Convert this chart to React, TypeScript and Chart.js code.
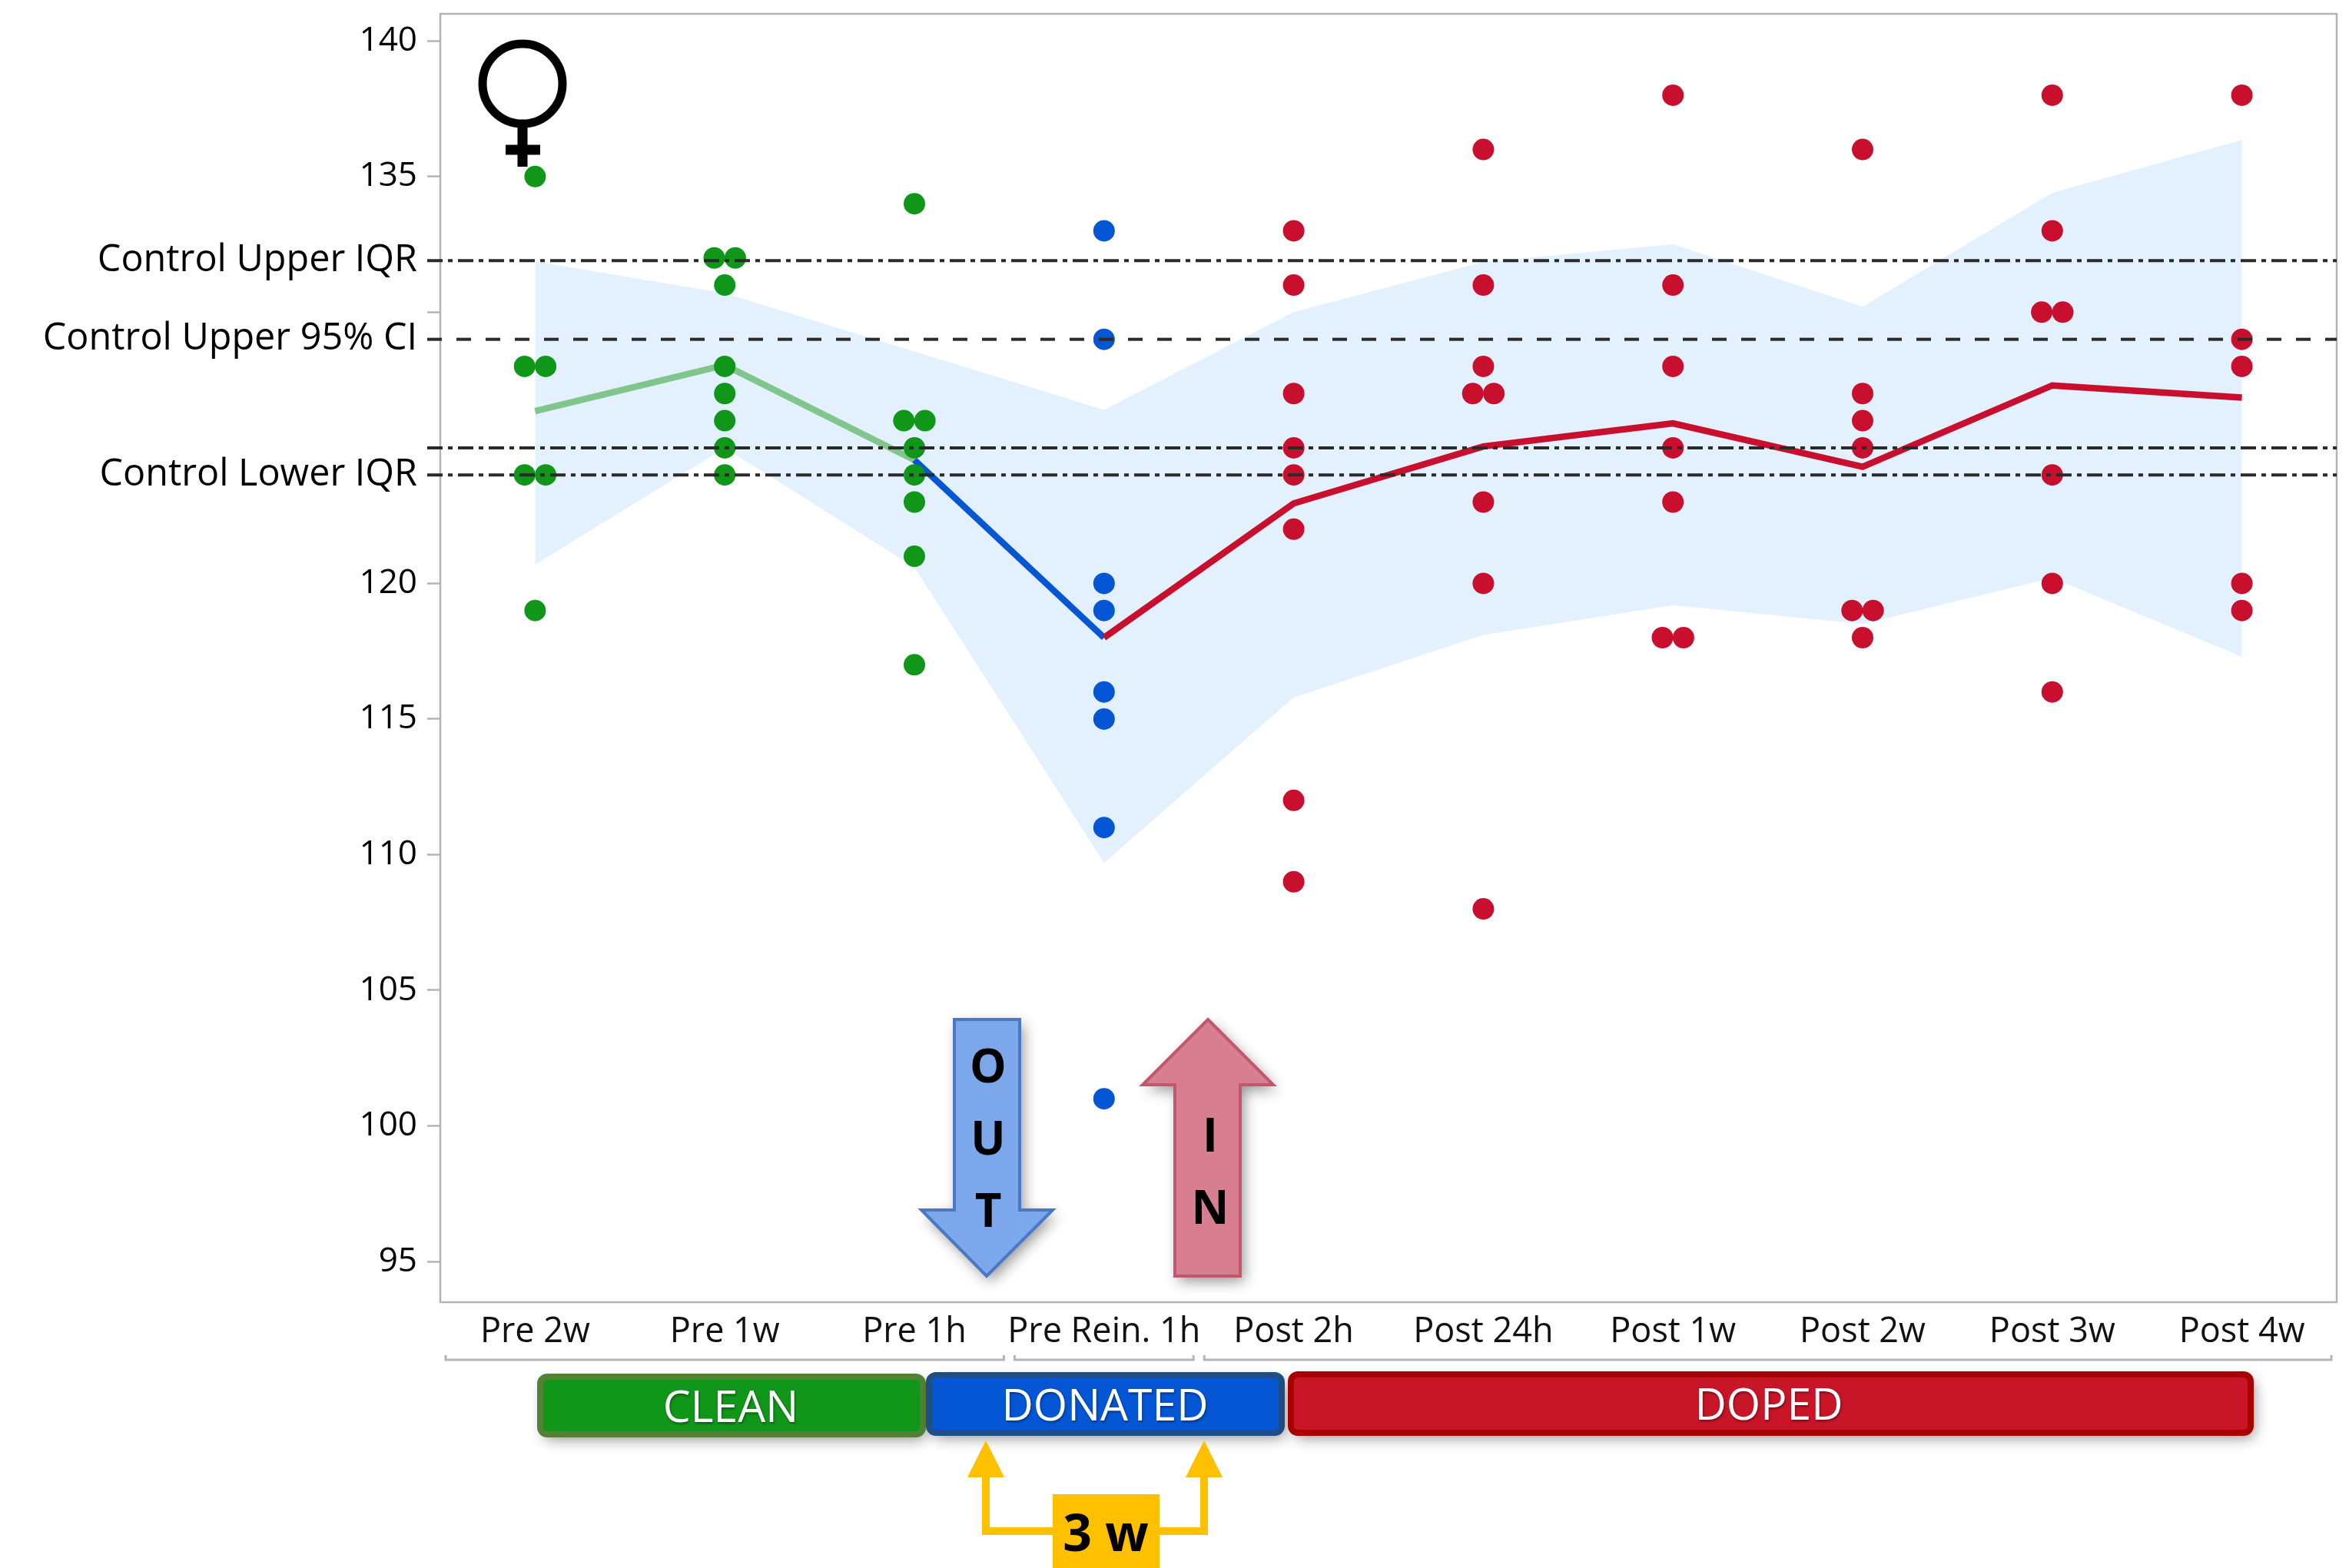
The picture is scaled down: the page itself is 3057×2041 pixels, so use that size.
import React, { useEffect, useRef } from "react";
import { Chart, registerables } from "chart.js";

Chart.register(...registerables);

const categories = ["Pre 2w", "Pre 1w", "Pre 1h", "Pre Rein. 1h", "Post 2h", "Post 24h", "Post 1w", "Post 2w", "Post 3w", "Post 4w"];

const pre2w = [135, 128, 128, 124, 124, 119];
const pre1w = [132, 132, 131, 128, 127, 126, 125, 124];
const pre1h = [134, 126, 126, 125, 124, 123, 121, 117];
const preRein1h = [133, 129, 120, 119, 116, 115, 111, 101];
const post2h = [133, 131, 127, 125, 124, 122, 112, 109];
const post24h = [136, 131, 128, 127, 127, 123, 120, 108];
const post1w = [138, 131, 128, 125, 123, 118, 118];
const post2w = [136, 127, 126, 125, 119, 119, 118];
const post3w = [138, 133, 130, 130, 124, 120, 116];
const post4w = [138, 129, 128, 120, 119];

const meanLine = [126.35, 128.05, 124.55, 118, 122.95, 125.05, 125.9, 124.3, 127.3, 126.85];
const bandUpper = [131.87, 130.7, 128.55, 126.4, 130, 131.85, 132.5, 130.2, 134.4, 136.35];
const bandLower = [120.7, 125, 120.6, 109.7, 115.8, 118.1, 119.2, 118.5, 120.2, 117.3];

const yTickValues = [140, 135, 131.9, 130, 129, 125, 124, 120, 115, 110, 105, 100, 95];
const yTickLabels = ["140", "135", "Control Upper IQR", "", "Control Upper 95% CI", "", "Control Lower IQR", "120", "115", "110", "105", "100", "95"];

const refIqrUpper = 131.9;
const refCiUpper = 129;
const refUnlabelled = 125;
const refIqrLower = 124;

const groupNames = ["CLEAN", "DONATED", "DOPED"];
const arrowOutLetters = ["O", "U", "T"];
const arrowInLetters = ["I", "N"];
const gapLabel = "3 w";

const FONT = '"Open Sans", sans-serif';
const W = 3057;
const H = 2041;
const GREEN = "#109618";
const BLUE = "#0456d5";
const RED = "#c8102e";
const JITTER = 0.0555;
const DASH_DOT = [20, 7, 6, 7];

function spread(values: number[], index: number) {
  return values.map((v) => {
    const isDup = values.filter((o) => o === v).length > 1;
    return { v, isDup };
  }).map((e, i, arr) => {
    const first = arr.findIndex((o) => o.v === e.v) === i;
    return { x: index + (e.isDup ? (first ? -JITTER : JITTER) : 0), y: e.v };
  });
}

const groups = [pre2w, pre1w, pre1h, preRein1h, post2h, post24h, post1w, post2w, post3w, post4w];
const greenDots = [0, 1, 2].flatMap((i) => spread(groups[i], i));
const blueDots = spread(groups[3], 3);
const redDots = [4, 5, 6, 7, 8, 9].flatMap((i) => spread(groups[i], i));

function roundRect(ctx: CanvasRenderingContext2D, x: number, y: number, w: number, h: number, r: number) {
  ctx.beginPath();
  ctx.moveTo(x + r, y);
  ctx.arcTo(x + w, y, x + w, y + h, r);
  ctx.arcTo(x + w, y + h, x, y + h, r);
  ctx.arcTo(x, y + h, x, y, r);
  ctx.arcTo(x, y, x + w, y, r);
  ctx.closePath();
}

function poly(ctx: CanvasRenderingContext2D, pts: number[][]) {
  ctx.beginPath();
  pts.forEach((p, i) => (i ? ctx.lineTo(p[0], p[1]) : ctx.moveTo(p[0], p[1])));
  ctx.closePath();
}

function shadow(ctx: CanvasRenderingContext2D, on: boolean) {
  ctx.shadowColor = on ? "rgba(0,0,0,0.42)" : "transparent";
  ctx.shadowBlur = on ? 18 : 0;
  ctx.shadowOffsetX = on ? 5 : 0;
  ctx.shadowOffsetY = on ? 7 : 0;
}

const framePlugin = {
  id: "frame",
  beforeDatasetsDraw(chart: any) {
    const { ctx, chartArea: a } = chart;
    ctx.save();
    ctx.strokeStyle = "#b4b4b4";
    ctx.lineWidth = 2.5;
    ctx.strokeRect(a.left, a.top, a.right - a.left, a.bottom - a.top);
    ctx.restore();
  },
};

const refLinesPlugin = {
  id: "refLines",
  afterDatasetsDraw(chart: any) {
    const { ctx, chartArea: a, scales } = chart;
    const lines: [number, number[]][] = [
      [refIqrUpper, DASH_DOT],
      [refCiUpper, [19, 19]],
      [refUnlabelled, DASH_DOT],
      [refIqrLower, DASH_DOT],
    ];
    ctx.save();
    ctx.strokeStyle = "#2a2a2a";
    ctx.lineWidth = 4;
    lines.forEach(([v, dash]) => {
      const y = scales.y.getPixelForValue(v);
      ctx.setLineDash(dash);
      ctx.beginPath();
      ctx.moveTo(a.left - 17, y);
      ctx.lineTo(a.right, y);
      ctx.stroke();
    });
    ctx.restore();
  },
};

const annotationsPlugin = {
  id: "annotations",
  afterDraw(chart: any) {
    const { ctx, scales } = chart;
    const px = (v: number) => scales.x.getPixelForValue(v);
    ctx.save();
    ctx.textAlign = "center";
    ctx.textBaseline = "middle";

    // female symbol
    ctx.strokeStyle = "#000";
    ctx.lineWidth = 11;
    ctx.beginPath();
    ctx.ellipse(680, 109, 52, 52, 0, 0, Math.PI * 2);
    ctx.stroke();
    ctx.lineWidth = 13;
    ctx.beginPath();
    ctx.moveTo(680, 164);
    ctx.lineTo(680, 217);
    ctx.moveTo(658, 195);
    ctx.lineTo(703, 195);
    ctx.stroke();

    // brackets below the axis labels
    const brackets = [[0, 2], [3, 3], [4, 9]];
    ctx.strokeStyle = "#b4b4b4";
    ctx.lineWidth = 3;
    brackets.forEach(([s, e]) => {
      const x0 = px(s - 0.5) + 7;
      const x1 = px(e + 0.5) - 7;
      ctx.beginPath();
      ctx.moveTo(x0, 1764);
      ctx.lineTo(x0, 1770);
      ctx.lineTo(x1, 1770);
      ctx.lineTo(x1, 1764);
      ctx.stroke();
    });

    // group boxes
    const boxes = [
      { x0: 699, x1: 1205, y0: 1788, y1: 1871, fill: GREEN, edge: "#548235" },
      { x0: 1205, x1: 1672, y0: 1786, y1: 1869, fill: BLUE, edge: "#1f4e85" },
      { x0: 1676, x1: 2933, y0: 1785, y1: 1869, fill: "#c81528", edge: "#a80000" },
    ];
    boxes.forEach((b, i) => {
      shadow(ctx, true);
      roundRect(ctx, b.x0 + 4, b.y0 + 4, b.x1 - b.x0 - 8, b.y1 - b.y0 - 8, 9);
      ctx.fillStyle = b.fill;
      ctx.fill();
      shadow(ctx, false);
      ctx.strokeStyle = b.edge;
      ctx.lineWidth = 8;
      ctx.stroke();
      ctx.font = `500 57px ${FONT}`;
      ctx.fillStyle = "#fff";
      ctx.shadowColor = "rgba(0,0,0,0.4)";
      ctx.shadowBlur = 3;
      ctx.shadowOffsetX = 1;
      ctx.shadowOffsetY = 2;
      const cx = i === 0 ? 951 : i === 1 ? 1438 : 2302;
      ctx.fillText(groupNames[i], cx, (b.y0 + b.y1) / 2 + 5);
      shadow(ctx, false);
    });

    // OUT and IN arrows
    const arrow = (pts: number[][], fill: string, edge: string) => {
      shadow(ctx, true);
      poly(ctx, pts);
      ctx.fillStyle = fill;
      ctx.fill();
      shadow(ctx, false);
      ctx.strokeStyle = edge;
      ctx.lineWidth = 4;
      ctx.lineJoin = "miter";
      ctx.stroke();
    };
    arrow([[1242, 1327], [1327, 1327], [1327, 1575], [1370, 1575], [1284, 1661], [1199, 1575], [1242, 1575]], "#7ca7ea", "#4a78c4");
    arrow([[1572, 1327], [1657, 1412], [1614, 1412], [1614, 1661], [1529, 1661], [1529, 1412], [1487, 1412]], "#d77f90", "#c4566c");
    ctx.fillStyle = "#000";
    ctx.font = `700 60px ${FONT}`;
    [1392, 1486, 1580].forEach((y, i) => ctx.fillText(arrowOutLetters[i], 1286, y));
    [1482, 1576].forEach((y, i) => ctx.fillText(arrowInLetters[i], 1575, y));

    // 3 w interval marker
    const YEL = "#ffc000";
    ctx.strokeStyle = YEL;
    ctx.lineWidth = 10;
    ctx.lineJoin = "miter";
    ctx.beginPath();
    ctx.moveTo(1283, 1920);
    ctx.lineTo(1283, 1993);
    ctx.lineTo(1567, 1993);
    ctx.lineTo(1567, 1920);
    ctx.stroke();
    ctx.fillStyle = YEL;
    poly(ctx, [[1283, 1875], [1307, 1923], [1259, 1923]]);
    ctx.fill();
    poly(ctx, [[1567, 1875], [1591, 1923], [1543, 1923]]);
    ctx.fill();
    ctx.fillRect(1370, 1945, 139, H - 1945);
    ctx.fillStyle = "#000";
    ctx.font = `700 66px ${FONT}`;
    ctx.fillText(gapLabel, 1439, 2000);
    ctx.restore();
  },
};

export default function App() {
  const ref = useRef<HTMLCanvasElement>(null);
  useEffect(() => {
    if (!ref.current) return;
    const dot = (label: string, data: any[], color: string) => ({
      label,
      data,
      showLine: false,
      pointRadius: 14,
      pointBackgroundColor: color,
      pointBorderWidth: 0,
      borderColor: color,
    });
    const xy = (arr: number[]) => arr.map((y, x) => ({ x, y }));
    const chart = new Chart(ref.current, {
      type: "scatter",
      data: {
        datasets: [
          dot("Clean", greenDots, GREEN),
          dot("Donated", blueDots, BLUE),
          dot("Doped", redDots, RED),
          {
            label: "Mean",
            data: xy(meanLine),
            showLine: true,
            pointRadius: 0,
            borderWidth: 8.5,
            borderColor: RED,
            segment: {
              borderColor: (c: any) => (c.p0DataIndex < 2 ? "#80c68c" : c.p0DataIndex === 2 ? BLUE : RED),
            },
          },
          { label: "Upper", data: xy(bandUpper), showLine: true, pointRadius: 0, borderWidth: 0, borderColor: "transparent", backgroundColor: "#e3f0fe", fill: "+1" },
          { label: "Lower", data: xy(bandLower), showLine: true, pointRadius: 0, borderWidth: 0, borderColor: "transparent", fill: false },
        ] as any,
      },
      options: {
        responsive: false,
        animation: false,
        devicePixelRatio: 1,
        layout: { padding: { top: 18, right: 16, left: 0, bottom: 0 } },
        plugins: { legend: { display: false }, tooltip: { enabled: false }, title: { display: false } },
        scales: {
          x: {
            type: "linear",
            min: -0.5,
            max: 9.5,
            afterBuildTicks: (s: any) => {
              s.ticks = categories.map((_, i) => ({ value: i }));
            },
            afterFit: (s: any) => {
              s.height = H - 1695;
              s.paddingLeft = 0;
              s.paddingRight = 0;
            },
            ticks: {
              autoSkip: false,
              maxRotation: 0,
              padding: 4,
              color: "#111",
              font: { family: FONT, size: 45, weight: "500" },
              callback: (v: any) => categories[v] ?? "",
            },
            grid: { display: false },
            border: { display: false },
          },
          y: {
            type: "linear",
            min: 93.5,
            max: 141,
            afterBuildTicks: (s: any) => {
              s.ticks = yTickValues.map((value) => ({ value }));
            },
            afterFit: (s: any) => {
              s.width = 573;
              s.paddingTop = 0;
              s.paddingBottom = 0;
            },
            ticks: {
              autoSkip: false,
              padding: 13,
              color: "#000",
              font: (c: any) => ({
                family: FONT,
                weight: "500",
                size: (yTickLabels[yTickValues.indexOf(c.tick?.value)] ?? "").length > 3 ? 48.5 : 44,
              }),
              callback: (v: any) => yTickLabels[yTickValues.indexOf(v)] ?? "",
            },
            grid: { display: true, drawOnChartArea: false, drawTicks: true, tickLength: 17, tickColor: "#b4b4b4", tickWidth: 2.5 },
            border: { display: false },
          },
        },
      } as any,
      plugins: [framePlugin, refLinesPlugin, annotationsPlugin],
    });
    return () => chart.destroy();
  }, []);
  return (
    <div style={{ position: "absolute", left: 0, top: 0, width: W, height: H, background: "#fff", overflow: "hidden" }}>
      <canvas ref={ref} width={W} height={H} style={{ display: "block", width: W, height: H }} />
    </div>
  );
}
